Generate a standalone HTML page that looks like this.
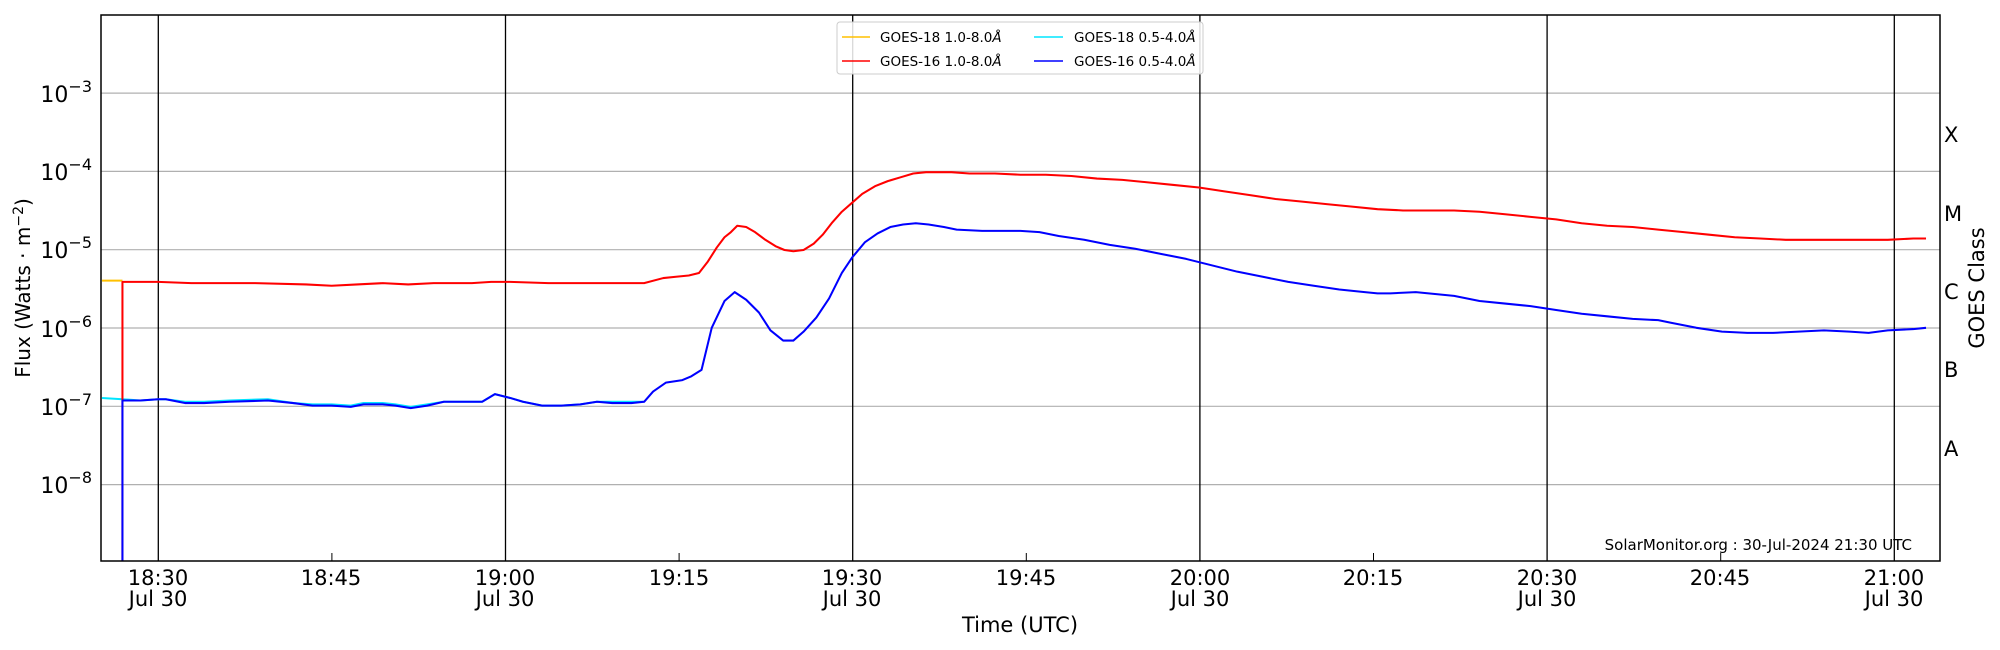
<!DOCTYPE html>
<html><head><meta charset="utf-8"><style>
html,body{margin:0;padding:0;background:#fff;}
svg{display:block;font-family:"DejaVu Sans","Liberation Sans",sans-serif;}
</style></head><body>
<svg width="2000" height="650" viewBox="0 0 2000 650" xmlns="http://www.w3.org/2000/svg">
<rect width="2000" height="650" fill="#fff"/>
<g stroke="#b0b0b0" stroke-width="1.2">
<line x1="101" x2="1940" y1="93.1" y2="93.1"/>
<line x1="101" x2="1940" y1="171.4" y2="171.4"/>
<line x1="101" x2="1940" y1="249.7" y2="249.7"/>
<line x1="101" x2="1940" y1="328" y2="328"/>
<line x1="101" x2="1940" y1="406.3" y2="406.3"/>
<line x1="101" x2="1940" y1="484.6" y2="484.6"/>
</g>
<g stroke="#000" stroke-width="1.3">
<line x1="158.3" x2="158.3" y1="15" y2="561"/>
<line x1="505.5" x2="505.5" y1="15" y2="561"/>
<line x1="852.7" x2="852.7" y1="15" y2="561"/>
<line x1="1199.9" x2="1199.9" y1="15" y2="561"/>
<line x1="1547.1" x2="1547.1" y1="15" y2="561"/>
<line x1="1894.3" x2="1894.3" y1="15" y2="561"/>
</g>
<g stroke="#000" stroke-width="1">
<line x1="331.9" x2="331.9" y1="561" y2="553"/>
<line x1="679.1" x2="679.1" y1="561" y2="553"/>
<line x1="1026.3" x2="1026.3" y1="561" y2="553"/>
<line x1="1373.5" x2="1373.5" y1="561" y2="553"/>
<line x1="1720.7" x2="1720.7" y1="561" y2="553"/>
</g>
<g id="yt" stroke="#000" stroke-width="1"></g>
<g transform="scale(1.27551)" fill="none" stroke-width="1.6" stroke-linejoin="round">
<polyline stroke="#ffc000" points="80,220 96,220"/>
<polyline stroke="#00e5ff" points="80,312 96,313 110,314 124,313 130,313 145,315 160,315 180,314 210,313 230,316 245,317 260,317 275,318 285,316 300,316 310,317 322,319 335,317 348,315 360,315 378,315 388,309 400,312 410,315 425,318 440,318 455,317 468,315 480,315 495,315 505,315"/>
<polyline stroke="#ff0000" points="96,440 96,221 124,221 150,222 200,222 240,223 260,224 280,223 300,222 320,223 340,222 370,222 385,221 400,221 430,222 460,222 490,222 505,222 520,218 530,217 540,216 548,214 555,205 562,194 568,186 573,182 578,177 585,178 592,182 600,188 608,193 615,196 622,197 630,196 638,191 645,184 652,175 660,166 668,159 676,152 686,146 696,142 706,139 716,136 726,135 736,135 746,135 760,136 780,136 800,137 820,137 840,138 860,140 880,141 900,143 920,145 940,147 960,150 980,153 1000,156 1020,158 1040,160 1060,162 1080,164 1100,165 1120,165 1140,165 1160,166 1180,168 1200,170 1220,172 1240,175 1260,177 1280,178 1300,180 1320,182 1340,184 1360,186 1380,187 1400,188 1420,188 1440,188 1460,188 1480,188 1500,187 1510,187"/>
<polyline stroke="#0000ff" points="96,440 96,314 110,314 124,313 130,313 145,316 160,316 180,315 210,314 230,316 245,318 260,318 275,319 285,317 300,317 310,318 322,320 335,318 348,315 360,315 378,315 388,309 400,312 410,315 425,318 440,318 455,317 468,315 480,316 495,316 505,315 512,307 522,300 535,298 542,295 550,290 558,257 568,236 576,229 585,235 595,245 604,259 614,267 622,267 630,260 640,249 650,234 660,214 668,202 678,190 688,183 698,178 708,176 718,175 728,176 740,178 750,180 770,181 790,181 800,181 815,182 830,185 850,188 870,192 890,195 910,199 930,203 950,208 970,213 990,217 1010,221 1030,224 1050,227 1070,229 1080,230 1090,230 1110,229 1120,230 1140,232 1160,236 1180,238 1200,240 1220,243 1240,246 1260,248 1280,250 1300,251 1310,253 1330,257 1350,260 1370,261 1390,261 1410,260 1430,259 1450,260 1465,261 1480,259 1500,258 1510,257"/>
</g>
<rect x="101" y="15" width="1839" height="546" fill="none" stroke="#000" stroke-width="1.5"/>
<rect x="837" y="22" width="366" height="52" rx="3" fill="#fff" fill-opacity="0.85" stroke="#ccc"/>
<g stroke-width="1.5">
<line x1="842" x2="870" y1="37" y2="37" stroke="#ffc000"/>
<line x1="842" x2="870" y1="61" y2="61" stroke="#ff0000"/>
<line x1="1034" x2="1063" y1="37" y2="37" stroke="#00e5ff"/>
<line x1="1034" x2="1063" y1="61" y2="61" stroke="#0000ff"/>
</g>
<g font-size="13.5" fill="#000">
<text x="880" y="42">GOES-18 1.0-8.0<tspan font-style="italic">Å</tspan></text>
<text x="880" y="66">GOES-16 1.0-8.0<tspan font-style="italic">Å</tspan></text>
<text x="1074" y="42">GOES-18 0.5-4.0<tspan font-style="italic">Å</tspan></text>
<text x="1074" y="66">GOES-16 0.5-4.0<tspan font-style="italic">Å</tspan></text>
</g>
<g font-size="22" fill="#000" text-anchor="end">
<text x="92" y="102">10<tspan dy="-10" font-size="16">−3</tspan></text>
<text x="92" y="180">10<tspan dy="-10" font-size="16">−4</tspan></text>
<text x="92" y="258">10<tspan dy="-10" font-size="16">−5</tspan></text>
<text x="92" y="337">10<tspan dy="-10" font-size="16">−6</tspan></text>
<text x="92" y="415">10<tspan dy="-10" font-size="16">−7</tspan></text>
<text x="92" y="493">10<tspan dy="-10" font-size="16">−8</tspan></text>
</g>
<text transform="translate(30,288) rotate(-90)" font-size="20" text-anchor="middle">Flux (Watts · m<tspan dy="-7" font-size="14">−2</tspan><tspan dy="7">)</tspan></text>
<g font-size="21" text-anchor="middle" fill="#000">
<text x="158" y="585">18:30</text><text x="158" y="606">Jul 30</text>
<text x="331" y="585">18:45</text>
<text x="505" y="585">19:00</text><text x="505" y="606">Jul 30</text>
<text x="679" y="585">19:15</text>
<text x="852" y="585">19:30</text><text x="852" y="606">Jul 30</text>
<text x="1026" y="585">19:45</text>
<text x="1200" y="585">20:00</text><text x="1200" y="606">Jul 30</text>
<text x="1373" y="585">20:15</text>
<text x="1547" y="585">20:30</text><text x="1547" y="606">Jul 30</text>
<text x="1720" y="585">20:45</text>
<text x="1894" y="585">21:00</text><text x="1894" y="606">Jul 30</text>
<text x="1020" y="632">Time (UTC)</text>
</g>
<g font-size="21" fill="#000">
<text x="1944" y="142">X</text>
<text x="1944" y="221">M</text>
<text x="1944" y="299">C</text>
<text x="1944" y="377">B</text>
<text x="1944" y="456">A</text>
</g>
<text transform="translate(1984,288) rotate(-90)" font-size="21" text-anchor="middle">GOES Class</text>
<text x="1912" y="550" font-size="15" text-anchor="end">SolarMonitor.org : 30-Jul-2024 21:30 UTC</text>
<script>
(function(){var g=document.getElementById('yt');var s='';var d=78.3;
for(var e=-9;e<=-2;e++){var y0=562.9-(e+9)*d;
for(var m=1;m<10;m++){var y=y0-Math.log10(m)*d;if(y<15||y>561)continue;var L=(m==1)?14:8;
s+='<line x1="101" x2="'+(101+L)+'" y1="'+y+'" y2="'+y+'"/>';
s+='<line x1="1940" x2="'+(1940-L)+'" y1="'+y+'" y2="'+y+'"/>';}}
g.innerHTML=s;})();
</script>
</svg>
</body></html>
